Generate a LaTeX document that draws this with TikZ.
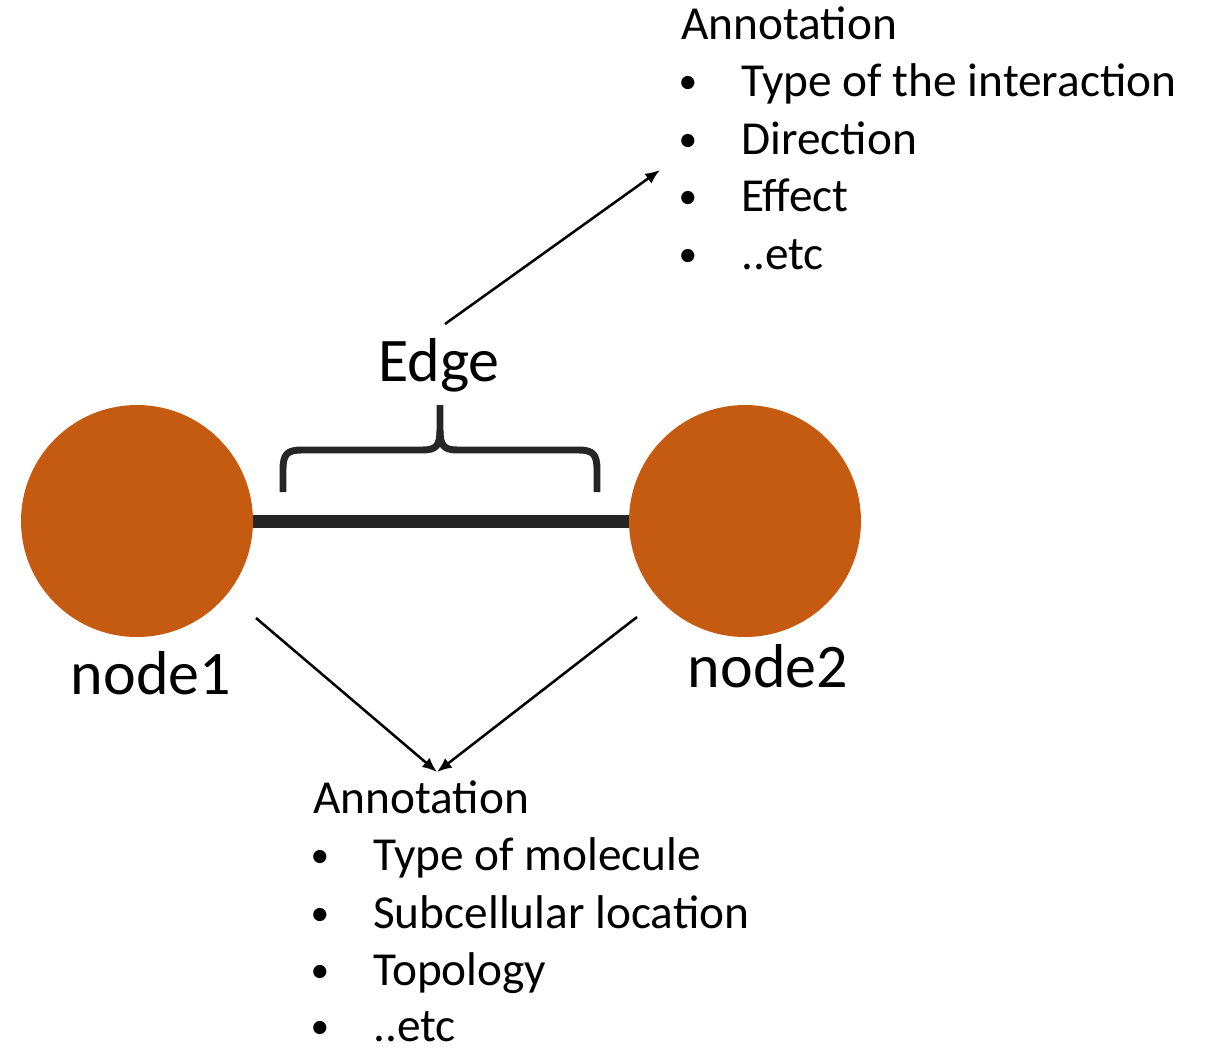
\documentclass[tikz,border=0pt]{standalone}
\usepackage{fontspec}
\setmainfont{Carlito}
\usetikzlibrary{arrows.meta,shapes.geometric}
\definecolor{nodeorange}{RGB}{197,90,17}
\definecolor{edgegray}{RGB}{38,38,38}
\begin{document}
\begin{tikzpicture}[x=0.75pt,y=-0.75pt,
  vertex/.style={circle,fill=nodeorange,minimum size=174pt,inner sep=0pt},
  vlabel/.style={font=\fontsize{46.5}{50}\selectfont,anchor=base,inner sep=0pt},
  annot/.style={font=\fontsize{35.5}{40}\selectfont,anchor=base west,inner sep=0pt},
  bul/.style={font=\fontsize{28}{30}\selectfont,anchor=base,inner sep=0pt},
  pointer/.style={line width=1.9pt,-{Latex[length=11pt,width=9pt]}},
  brace/.style={line width=5.2pt,edgegray,line cap=butt,line join=round}]
\useasboundingbox (0,0) rectangle (1212,1051);

% the two vertices and the edge between them
\node[vertex] (n1) at (137,521) {};
\node[vertex] (n2) at (745,521) {};
\draw[line width=9.75pt,edgegray] (n1.east) -- (n2.west);
\node[vlabel] (l1) at (151,694) {node1};
\node[vlabel] (l2) at (768,687) {node2};

% curly brace over the edge
\draw[brace] (283,492) -- (283,470) .. controls (283,454) and (287,450) .. (302,450)
  -- (422,450) .. controls (436,450) and (440,446) .. (440,430) -- (440,405);
\draw[brace] (597,492) -- (597,470) .. controls (597,454) and (593,450) .. (578,450)
  -- (458,450) .. controls (444,450) and (440,446) .. (440,430);
\node[vlabel] (edge) at (439,381) {Edge};

% edge annotation
\node[annot] (ea) at (681,39) {Annotation};
\foreach \t/\yy [count=\i] in {Type of the interaction/96,Direction/154,Effect/211,..etc/269}{
  \node[bul] (eb\i) at (688,\yy-3) {•};
  \node[annot] (ei\i) at (741,\yy) {\t};
}
\coordinate (es) at (445,324);
\coordinate (et) at (660,170);
\draw[pointer] (es) -- (et);

% vertex annotation
\node[annot] (va) at (313,813) {Annotation};
\foreach \t/\yy [count=\i] in {Type of molecule/870,Subcellular location/928,Topology/985,..etc/1041}{
  \node[bul] (vb\i) at (320,\yy-3) {•};
  \node[annot] (vi\i) at (373,\yy) {\t};
}
\coordinate (v1) at (256,618);
\coordinate (v2) at (637,617);
\coordinate (vt) at (437,772);
\draw[pointer] (v1) -- (vt);
\draw[pointer] (v2) -- (vt);
\end{tikzpicture}
\end{document}
